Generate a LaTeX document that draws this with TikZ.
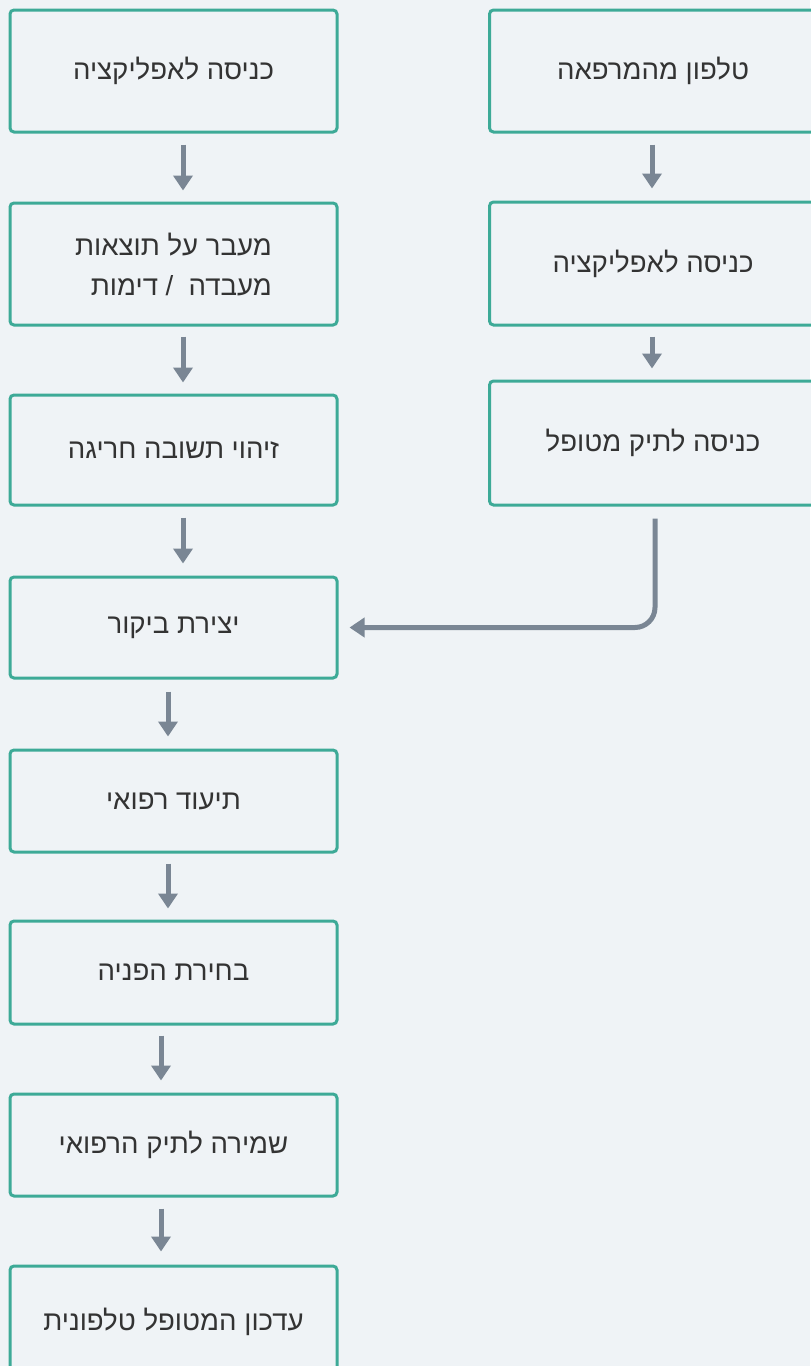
\documentclass[tikz,border=0pt]{standalone}
\usepackage{fontspec}
\usetikzlibrary{arrows.meta}
\TeXXeTstate=1
\newfontfamily\heb[Script=Hebrew]{Liberation Sans}
\definecolor{bgc}{HTML}{EFF3F6}
\definecolor{teal}{HTML}{3DAA97}
\definecolor{arrc}{HTML}{7A8694}
\definecolor{txt}{HTML}{333333}
\tikzset{
  box/.style={draw=teal, line width=1.5pt, rounded corners=2pt, fill=bgc,
    minimum width=163.5pt, text=txt, align=right,
    font=\heb\fontsize{13.8}{20}\selectfont},
  arr/.style={draw=arrc, line width=2.5pt, -{Triangle[width=9.5pt,length=7.5pt]}},
}
\begin{document}
\begin{tikzpicture}[x=0.5pt,y=-0.5pt]
\useasboundingbox (0,0) rectangle (810,1366);
\fill[bgc] (0,0) rectangle (810,1366);
% left column
\node[box, minimum height=61pt] (l1) at (173.5,71) {\beginR כניסה לאפליקציה\endR};
\node[box, minimum height=61pt] (l2) at (173.5,264) {\beginR מעבר על תוצאות\endR\\\beginR מעבדה\ \ / דימות\endR};
\node[box, minimum height=55pt] (l3) at (173.5,450) {\beginR זיהוי תשובה חריגה\endR};
\node[box, minimum height=50.5pt] (l4) at (173.5,627.5) {\beginR יצירת ביקור\endR};
\node[box, minimum height=51pt] (l5) at (173.5,801) {\beginR תיעוד רפואי\endR};
\node[box, minimum height=51.5pt] (l6) at (173.5,972.5) {\beginR בחירת הפניה\endR};
\node[box, minimum height=51pt] (l7) at (173.5,1145) {\beginR שמירה לתיק הרפואי\endR};
\node[box, minimum height=56pt] (l8) at (173.5,1322) {\beginR עדכון המטופל טלפונית\endR};
% right column
\node[box, minimum height=61pt] (r1) at (653,71) {\beginR טלפון מהמרפאה\endR};
\node[box, minimum height=61.5pt] (r2) at (653,263.5) {\beginR כניסה לאפליקציה\endR};
\node[box, minimum height=62pt] (r3) at (653,443) {\beginR כניסה לתיק מטופל\endR};
% arrows
\draw[arr, shorten <=5.5pt, shorten >=5.5pt] ([xshift=4.75pt]l1.south) -- ([xshift=4.75pt]l2.north);
\draw[arr, shorten <=5pt, shorten >=5.5pt] ([xshift=4.75pt]l2.south) -- ([xshift=4.75pt]l3.north);
\draw[arr, shorten <=5.5pt, shorten >=6pt] ([xshift=4.75pt]l3.south) -- ([xshift=4.75pt]l4.north);
\draw[arr, shorten <=6pt, shorten >=6pt] ([xshift=-2.75pt]l4.south) -- ([xshift=-2.75pt]l5.north);
\draw[arr, shorten <=5pt, shorten >=5.5pt] ([xshift=-2.75pt]l5.south) -- ([xshift=-2.75pt]l6.north);
\draw[arr, shorten <=5pt, shorten >=6pt] ([xshift=-6.25pt]l6.south) -- ([xshift=-6.25pt]l7.north);
\draw[arr, shorten <=5.5pt, shorten >=6.5pt] ([xshift=-6.25pt]l7.south) -- ([xshift=-6.25pt]l8.north);
\draw[arr, shorten <=5.5pt, shorten >=6pt] ([xshift=-0.5pt]r1.south) -- ([xshift=-0.5pt]r2.north);
\draw[arr, shorten <=5pt, shorten >=5.5pt] ([xshift=-0.5pt]r2.south) -- ([xshift=-0.5pt]r3.north);
\draw[arr, rounded corners=10pt, shorten <=6pt, shorten >=5.5pt] ([xshift=1pt]r3.south) |- (l4.east);
\end{tikzpicture}
\end{document}
